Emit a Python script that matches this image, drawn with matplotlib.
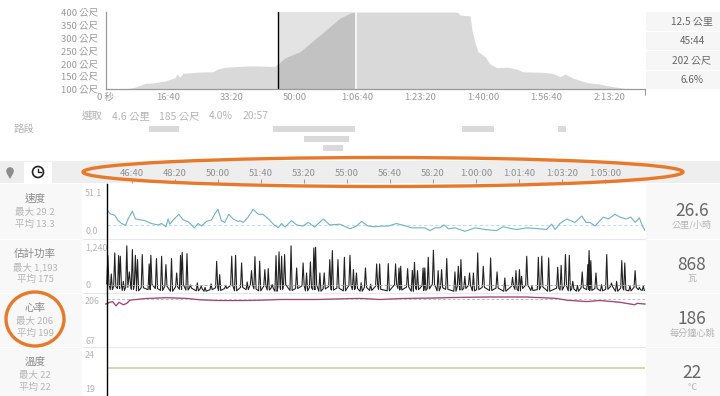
#!/usr/bin/env python3
"""Activity analysis screen: elevation overview plus zoomed speed / power / HR / temperature panels."""
import matplotlib
matplotlib.use("Agg")
import matplotlib.pyplot as plt
from matplotlib.patches import Circle, Ellipse, Polygon, Rectangle

plt.rcParams["font.family"] = ["Noto Sans CJK TC", "DejaVu Sans"]

# --- elevation overview (seconds, metres) ---
elev_t = [0, 8, 100, 110, 230, 262, 389, 468, 548, 627, 738, 865, 944, 1056, 1103, 1135, 1183, 1230,
          1341, 1500, 1706, 1770, 1897, 2056, 2294, 2690, 2706, 2738, 2849, 3087, 3246, 3405, 3563,
          3722, 3881, 3976, 5548, 5595, 5627, 5786, 5817, 5865, 5913, 6024, 6103, 6214, 6373, 6532,
          6627, 6944, 7103, 7214, 7294, 7421, 7643, 7849, 8056, 8278, 8532, 8563]
elev_m = [102, 102, 102, 100, 100, 101, 103, 107, 114, 122, 123, 128, 131, 140, 143, 158, 145, 161,
          163, 166, 167, 177, 185, 187, 190, 188, 193, 197, 221, 245, 278, 310, 343,
          376, 395, 400, 400, 398, 388, 385, 330, 279, 245, 226, 197, 183, 185, 177,
          167, 165, 161, 148, 158, 142, 125, 119, 109, 101, 101, 100]
elev_y_ticks = [100, 150, 200, 250, 300, 350, 400]
elev_x_ticks = [0, 1000, 2000, 3000, 4000, 5000, 6000, 7000, 8000]
elev_x_labels = ["0 秒", "16:40", "33:20", "50:00", "1:06:40", "1:23:20", "1:40:00", "1:56:40", "2:13:20"]
sel_start, sel_end = 2738, 3976

# --- segment bars (start, end seconds), one list per row ---
seg_row1 = [(690, 1162), (2659, 3960), (5659, 6167), (7183, 7310)]
seg_row2 = [(3151, 3865)]
seg_row3 = [(3452, 3770)]

summary_values = ["12.5 公里", "45:44", "202 公尺", "6.6%"]
sel_labels = ["選取", "4.6 公里", "185 公尺", "4.0%", "20:57"]

# --- zoomed time axis ---
zoom_ticks = [2800, 2900, 3000, 3100, 3200, 3300, 3400, 3500, 3600, 3700, 3800, 3900]
zoom_labels = ["46:40", "48:20", "50:00", "51:40", "53:20", "55:00", "56:40", "58:20",
               "1:00:00", "1:01:40", "1:03:20", "1:05:00"]

# --- speed, km/h ---
speed_t = [2739, 2749, 2760, 2768, 2776, 2785, 2791, 2801, 2808, 2830, 2845, 2861, 2869, 2879, 2884, 2888,
           2896, 2909, 2919, 2931, 2945, 2954, 2962, 2973, 2985, 2993, 3000, 3008, 3016, 3025, 3035, 3047,
           3051, 3059, 3070, 3082, 3094, 3105, 3117, 3129, 3140, 3148, 3156, 3171, 3183, 3198, 3210, 3225,
           3245, 3260, 3284, 3307, 3322, 3334, 3349, 3365, 3381, 3396, 3415, 3431, 3450, 3466, 3481, 3493,
           3505, 3516, 3526, 3536, 3551, 3574, 3598, 3621, 3648, 3663, 3679, 3695, 3718, 3741, 3764, 3776,
           3784, 3795, 3811, 3830, 3846, 3856, 3865, 3877, 3896, 3908, 3923, 3935, 3950, 3960, 3970, 3980,
           3987, 3994]
speed_v = [29.8, 24.4, 22.7, 17.4, 14.5, 12.7, 19.1, 26.9, 19.1, 17.4, 14.5, 13.1, 14.5, 11.3, 19.1, 13.8,
           18.1, 23.7, 18.1, 16.3, 10.2, 14.5, 12.0, 16.6, 18.1, 24.4, 28.7, 17.4, 15.6, 23.7, 19.1, 16.6,
           17.4, 15.6, 20.9, 28.7, 23.7, 23.7, 19.1, 13.8, 10.2, 14.5, 11.0, 17.4, 13.1, 12.0, 15.6, 11.0,
           19.1, 13.1, 13.8, 9.2, 12.0, 16.6, 12.0, 11.2, 12.0, 12.0, 14.5, 12.7, 10.2, 10.2, 10.2, 7.4,
           10.2, 10.2, 13.1, 9.2, 10.2, 6.7, 10.2, 8.5, 7.4, 11.3, 9.7, 8.5, 10.2, 9.5, 8.5, 13.8,
           8.5, 14.5, 19.1, 15.6, 22.0, 15.6, 15.6, 12.0, 20.9, 19.1, 23.7, 20.9, 19.1, 20.9, 15.6, 20.2,
           12.0, 6.7]

# --- estimated power, W: spike tops and the level between them ---
power_t = [2744, 2752, 2760, 2769, 2773, 2780, 2788, 2794, 2801, 2808, 2813, 2824, 2840, 2844, 2857, 2869,
           2879, 2892, 2904, 2913, 2917, 2928, 2936, 2952, 2961, 2970, 2984, 2997, 3004, 3018, 3032, 3041,
           3055, 3068, 3078, 3086, 3097, 3109, 3117, 3126, 3135, 3142, 3148, 3155, 3170, 3183, 3198, 3206,
           3215, 3223, 3227, 3237, 3247, 3260, 3266, 3279, 3294, 3307, 3315, 3322, 3333, 3343, 3355, 3369,
           3376, 3396, 3413, 3421, 3425, 3441, 3452, 3457, 3464, 3477, 3481, 3489, 3501, 3512, 3520, 3532,
           3551, 3559, 3565, 3574, 3585, 3594, 3604, 3617, 3634, 3649, 3667, 3685, 3693, 3701, 3706, 3718,
           3730, 3745, 3753, 3769, 3790, 3798, 3808, 3817, 3825, 3836, 3847, 3860, 3863, 3867, 3879, 3892,
           3904, 3915, 3927, 3939, 3946, 3958, 3970, 3980, 3989]
power_w = [941, 466, 1010, 941, 923, 276, 1193, 518, 1096, 949, 837, 967, 725, 949, 863, 923,
           708, 863, 492, 949, 1027, 992, 180, 233, 150, 120, 210, 794, 449, 170, 923, 949,
           751, 260, 552, 915, 794, 578, 604, 190, 941, 1036, 923, 967, 1193, 621, 751, 492,
           777, 1139, 1156, 492, 492, 837, 1070, 837, 898, 949, 578, 492, 240, 621, 200, 725,
           725, 734, 725, 621, 665, 604, 561, 768, 552, 621, 621, 898, 1079, 552, 578, 863,
           518, 665, 837, 406, 492, 492, 1010, 665, 880, 518, 362, 380, 552, 578, 406, 923,
           150, 898, 923, 880, 639, 690, 967, 949, 276, 170, 518, 708, 1070, 811, 492, 190,
           967, 233, 276, 811, 751, 160, 552, 120, 147]
power_low = [210, 60, 140, 90, 180, 40, 120, 230, 70, 160, 30, 110, 60, 200, 90, 40,
             150, 20, 130, 70, 190, 50, 100, 30, 80, 20, 60, 110, 40, 90, 170, 30,
             120, 60, 200, 80, 30, 150, 50, 100, 20, 130, 70, 190, 40, 90, 160, 30,
             110, 60, 180, 20, 80, 140, 50, 100, 30, 170, 60, 90, 20, 120, 40, 150,
             70, 30, 190, 90, 50, 130, 20, 100, 60, 160, 40, 80, 200, 30, 110, 70,
             20, 140, 50, 90, 170, 30, 60, 120, 40, 100, 20, 150, 70, 30, 90, 180,
             40, 60, 130, 20, 100, 50, 160, 30, 80, 20, 110, 60, 190, 40, 90, 30,
             70, 140, 20, 100, 50, 30, 120, 60, 40]

# --- heart rate, bpm ---
hr_t = [2739, 2749, 2755, 2763, 2770, 2780, 2788, 2795, 2819, 2838, 2881, 2927, 2958, 3005, 3051, 3098,
        3152, 3229, 3330, 3376, 3438, 3500, 3562, 3632, 3718, 3787, 3811, 3857, 3888, 3935, 3969, 3975, 3993]
hr_bpm = [186, 191, 193, 181, 191, 184, 188, 197, 200, 202, 204, 202, 198, 196, 196, 197,
          199, 199, 202, 199, 202, 203, 205, 206, 206, 202, 197, 193, 196, 191, 184, 188, 186]

# --- temperature, C ---
temp_t = [2739, 3993]
temp_c = [22, 22]

avg_speed, avg_power, avg_hr, avg_temp = 13.3, 175, 199, 22

W, H = 720, 396
ZOOM_X0, ZOOM_X1 = 107, 645
ZOOM_LIM = (2742, 3993)

fig = plt.figure(figsize=(W / 100, H / 100), dpi=100, facecolor="white")


def pix_axes(x0, y0, x1, y1, **kw):
    # axes from pixel box (y measured from the top of the picture)
    ax = fig.add_axes([x0 / W, 1 - y1 / H, (x1 - x0) / W, (y1 - y0) / H], **kw)
    ax.patch.set_alpha(0)
    return ax


def bare(ax):
    ax.set_xticks([])
    ax.set_yticks([])
    for s in ax.spines.values():
        s.set_visible(False)


# page furniture in pixel coordinates
bg = pix_axes(0, 0, W, H)
bg.set_xlim(0, W)
bg.set_ylim(H, 0)
bare(bg)
bg.add_patch(Rectangle((0, 161), W, 22, fc="#eeeeee", ec="none"))
bg.add_patch(Rectangle((24, 162), 28, 21, fc="white", ec="none"))
bg.add_patch(Rectangle((0, 184), 81.5, 212, fc="#f8f8f8", ec="none"))
bg.add_patch(Rectangle((646, 184), 74, 212, fc="#f8f8f8", ec="none"))
for y in (238.5, 292.5, 346.5):
    bg.plot([81.5, 646], [y, y], color="#e8e8e8", lw=0.8)
    bg.plot([0, 81.5], [y, y], color="white", lw=0.8)
    bg.plot([646, 720], [y, y], color="white", lw=0.8)
for y0, y1, txt in zip((12, 32, 51, 71), (31, 50, 70, 89), summary_values):
    bg.add_patch(Rectangle((646, y0), 74, y1 - y0, fc="#f6f6f6", ec="none"))
    bg.text(692, (y0 + y1) / 2, txt, ha="center", va="center", fontsize=7.2, color="#666666")

for x, txt in zip((82, 112, 159, 209, 243), sel_labels):
    bg.text(x, 116, txt, ha="left", va="center", fontsize=7.5, color="#b5b5b5")
bg.text(14, 129, "路段", ha="left", va="center", fontsize=7.5, color="#b5b5b5")

# map pin and clock icons
bg.add_patch(Circle((10, 171), 3.8, fc="#8c8c8c", ec="none"))
bg.add_patch(Polygon([(6.6, 173), (13.4, 173), (10, 179)], fc="#8c8c8c", ec="none"))
bg.add_patch(Circle((38, 172), 5.5, fc="white", ec="#222222", lw=1.2))
bg.plot([38, 38, 41], [168.5, 172, 172], color="#222222", lw=1)

# side labels of the four panels
side = [("速度", "最大 29.2", "平均 13.3", 199, "26.6", "公里/小時", 211),
        ("估計功率", "最大 1,193", "平均 175", 254, "868", "瓦", 265),
        ("心率", "最大 206", "平均 199", 308, "186", "每分鐘心跳", 319),
        ("溫度", "最大 22", "平均 22", 362, "22", "℃", 373)]
for name, mx, mean, y, val, unit, vy in side:
    bg.text(35, y, name, ha="center", va="center", fontsize=7.6, color="#8a8a8a")
    bg.text(35, y + 13, mx, ha="center", va="center", fontsize=6.8, color="#b5b5b5")
    bg.text(35, y + 25, mean, ha="center", va="center", fontsize=6.8, color="#b5b5b5")
    bg.text(692, vy, val, ha="center", va="center", fontsize=12.5, color="#666666")
    bg.text(692, vy + 14, unit, ha="center", va="center", fontsize=6.6, color="#b5b5b5")

# panel scale labels
for y, txt in ((193, "51.1"), (232, "0.0"), (248, "1,240"), (286, "0"),
               (302, "206"), (341, "67"), (356, "24"), (390, "19")):
    bg.text(85, y, txt, ha="left", va="center", fontsize=6.4, color="#b5b5b5")

# --- elevation overview ---
ax = pix_axes(105.5, 12, 645, 89)
ax.set_xlim(0, 8563)
ax.set_ylim(100, 400)
ax.axvspan(sel_start, sel_end, color="#e3e3e3", lw=0)
ax.fill_between(elev_t, elev_m, 100, color="#d9d9d9", lw=0)
sel_t = [t for t in elev_t if sel_start <= t <= sel_end]
sel_m = [m for t, m in zip(elev_t, elev_m) if sel_start <= t <= sel_end]
ax.fill_between(sel_t, sel_m, 100, color="#c2c2c2", lw=0)
ax.axvline(sel_start, color="black", lw=1.0)
ax.axvline(sel_end, color="white", lw=1.2)
ax.set_yticks(elev_y_ticks)
ax.set_yticklabels([f"{v} 公尺" for v in elev_y_ticks])
ax.set_xticks(elev_x_ticks)
ax.set_xticklabels(elev_x_labels)
ax.tick_params(axis="both", length=0, labelsize=6.8, labelcolor="#9a9a9a", pad=3)
ax.tick_params(axis="y", pad=5.4)
ax.set_xticks([0, 8563], minor=True)
ax.tick_params(axis="x", which="minor", length=4, color="#999999", width=0.8)
for s in ("top", "right"):
    ax.spines[s].set_visible(False)
for s in ("left", "bottom"):
    ax.spines[s].set_color("#999999")
    ax.spines[s].set_linewidth(0.9)

# --- segment rows ---
ax = pix_axes(105.5, 124, 645, 153)
ax.set_xlim(0, 8563)
ax.set_ylim(153, 124)
bare(ax)
for row, y0 in ((seg_row1, 126), (seg_row2, 136), (seg_row3, 145)):
    ax.broken_barh([(a, b - a) for a, b in row], (y0, 6), facecolor="#dadada", lw=0)

# --- zoomed time axis ---
ax = pix_axes(ZOOM_X0, 161, ZOOM_X1, 183)
ax.set_xlim(*ZOOM_LIM)
ax.set_ylim(0, 1)
ax.set_yticks([])
for s in ax.spines.values():
    s.set_visible(False)
ax.set_xticks(zoom_ticks)
ax.set_xticklabels(zoom_labels)
ax.tick_params(axis="x", direction="in", length=3, width=0.7, color="#999999",
               labelsize=6.8, labelcolor="#8f8f8f", pad=-3.5)
for lab in ax.get_xticklabels():
    lab.set_verticalalignment("bottom")

# --- data panels ---
ax = pix_axes(ZOOM_X0, 187, ZOOM_X1, 238)
ax.set_xlim(*ZOOM_LIM)
ax.set_ylim(0, 51.1)
bare(ax)
ax.axhline(avg_speed, color="#bfe0ea", lw=0.8, ls=(0, (3, 2)))
ax.plot(speed_t, speed_v, color="#6fb1c9", lw=0.8)

# each spike gets a narrow base so it stays thin like the original trace
trace_t, trace_w = [], []
for t, w, low in zip(power_t, power_w, power_low):
    trace_t += [t - 2.5, t, t + 2.5]
    trace_w += [low, w, low]
ax = pix_axes(ZOOM_X0, 244, ZOOM_X1, 292)
ax.set_xlim(*ZOOM_LIM)
ax.set_ylim(0, 1240)
bare(ax)
ax.plot(trace_t, trace_w, color="#222222", lw=0.8, clip_on=False)
ax.axhline(avg_power, color="#aaaaaa", lw=0.7, ls=(0, (3, 2)))

ax = pix_axes(ZOOM_X0, 297, ZOOM_X1, 346)
ax.set_xlim(*ZOOM_LIM)
ax.set_ylim(67, 206)
bare(ax)
ax.axhline(avg_hr, color="#c0c0c0", lw=0.7, ls=(0, (3, 2)), clip_on=False)
ax.plot(hr_t, hr_bpm, color="#e6a5c0", lw=1.2, clip_on=False)
ax.plot(hr_t, hr_bpm, color="#8a3560", lw=0.6, clip_on=False)

ax = pix_axes(ZOOM_X0, 350.5, ZOOM_X1, 394)
ax.set_xlim(*ZOOM_LIM)
ax.set_ylim(19, 24)
bare(ax)
ax.plot(temp_t, temp_c, color="#cfc7a6", lw=1.1)

# --- overlay: cursor and hand-drawn orange marks ---
top = pix_axes(0, 0, W, H, zorder=10)
top.set_xlim(0, W)
top.set_ylim(H, 0)
bare(top)
top.plot([107, 107], [184, 396], color="black", lw=1.0)
top.add_patch(Ellipse((383, 172), 600, 29, fc="none", ec="#e8792a", lw=2.4))
top.add_patch(Ellipse((35, 319), 58, 54, fc="none", ec="#e8792a", lw=2.4))

fig.savefig("out.png", dpi=100)
